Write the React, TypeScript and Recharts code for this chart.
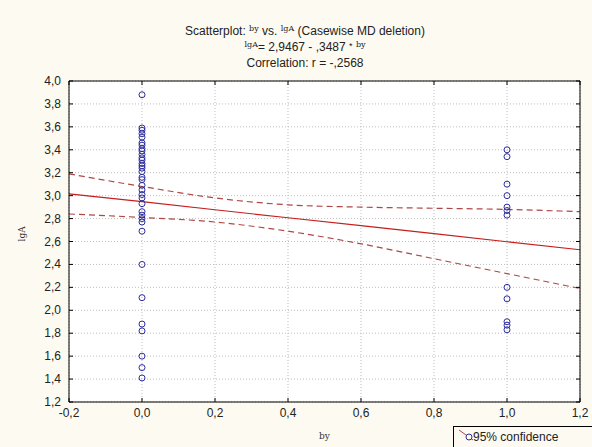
import React from 'react';
import { ComposedChart, Scatter, Line, XAxis, YAxis, CartesianGrid } from 'recharts';

const xTicks = [-0.2, 0, 0.2, 0.4, 0.6, 0.8, 1.0, 1.2];
const yTicks = [1.2, 1.4, 1.6, 1.8, 2.0, 2.2, 2.4, 2.6, 2.8, 3.0, 3.2, 3.4, 3.6, 3.8, 4.0];

const groupZeroValues = [3.88, 3.59, 3.57, 3.54, 3.51, 3.46, 3.44, 3.41, 3.39, 3.36, 3.33, 3.31, 3.28, 3.26, 3.24, 3.21, 3.16, 3.14, 3.09, 3.05, 3.01, 2.98, 2.93, 2.86, 2.83, 2.80, 2.77, 2.69, 2.40, 2.11, 1.88, 1.82, 1.60, 1.50, 1.41];
const groupOneValues = [3.40, 3.34, 3.10, 3.00, 2.90, 2.87, 2.83, 2.20, 2.10, 1.90, 1.87, 1.83];

const bandX = [-0.2, 0, 0.2, 0.4, 0.6, 0.8, 1.0, 1.2];
const fitValues = [3.016, 2.947, 2.877, 2.807, 2.738, 2.668, 2.598, 2.528];
const upperValues = [3.19, 3.08, 2.98, 2.92, 2.90, 2.89, 2.88, 2.86];
const lowerValues = [2.84, 2.81, 2.77, 2.69, 2.58, 2.45, 2.32, 2.19];

const scatterData = [
  ...groupZeroValues.map((y) => ({ x: 0, y })),
  ...groupOneValues.map((y) => ({ x: 1, y })),
];
const bandData = bandX.map((x, i) => ({ x, fit: fitValues[i], upper: upperValues[i], lower: lowerValues[i] }));

const fmt = (v: number) => v.toFixed(1).replace('.', ',');

const FONT = '"Liberation Sans", Arial, sans-serif';
const CREAM = '#fdfbf1';

const makeTick = (orient: string) => (props: any) => {
  const { x, y, payload } = props;
  if (orient === 'left') {
    const ax = x + 8;
    return (
      <g>
        <line x1={ax} x2={ax + 4} y1={y} y2={y} stroke="#000" />
        <text x={x} y={y} dy={4} textAnchor="end" fontSize={12} fontFamily={FONT} fill="#222">{fmt(payload.value)}</text>
      </g>
    );
  }
  if (orient === 'bottom') {
    const ay = y - 6;
    return (
      <g>
        <line x1={x} x2={x} y1={ay} y2={ay - 4} stroke="#000" />
        <text x={x} y={y} dy={9} textAnchor="middle" fontSize={12} fontFamily={FONT} fill="#222">{fmt(payload.value)}</text>
      </g>
    );
  }
  if (orient === 'top') {
    return <line x1={x} x2={x} y1={y} y2={y + 4} stroke="#000" />;
  }
  return <line x1={x} x2={x - 4} y1={y} y2={y} stroke="#000" />;
};

const Dot = (props: any) => (
  <circle cx={props.cx} cy={props.cy} r={3} fill="none" stroke="#2d2d9c" strokeWidth={1} />
);

const sup: React.CSSProperties = { fontFamily: '"DejaVu Serif", "Liberation Serif", serif', fontSize: 8, position: 'relative', top: -4 };

export default function App() {
  return (
    <div style={{ position: 'absolute', left: 0, top: 0, width: 592, height: 447, background: CREAM, fontFamily: FONT, overflow: 'hidden' }}>
      <ComposedChart width={592} height={447} data={bandData} margin={{ top: 71, right: 2, bottom: 0, left: 0 }}>
        <CartesianGrid stroke="#bdbdbd" strokeDasharray="1 2" fill="#ffffff" />
        <XAxis dataKey="x" type="number" domain={[-0.2, 1.2]} ticks={xTicks} interval={0} allowDataOverflow
          height={45} tickSize={0} tickLine={false} tickMargin={6} axisLine={{ stroke: '#000' }}
          tick={makeTick('bottom')}
          label={{ value: 'by', position: 'insideBottom', offset: 8, fontSize: 9, fontFamily: '"DejaVu Serif", serif', fill: '#333' }} />
        <XAxis xAxisId="top" orientation="top" dataKey="x" type="number" domain={[-0.2, 1.2]} ticks={xTicks} interval={0} allowDataOverflow
          height={10} tickSize={0} tickLine={false} tickMargin={0} axisLine={{ stroke: '#000' }} tick={makeTick('top')} />
        <YAxis type="number" domain={[1.2, 4.0]} ticks={yTicks} interval={0} allowDataOverflow
          width={69} tickSize={0} tickLine={false} tickMargin={8} axisLine={{ stroke: '#000' }}
          tick={makeTick('left')}
          label={{ value: 'lgA', angle: -90, position: 'insideLeft', offset: 22, fontSize: 9, fontFamily: '"DejaVu Serif", serif', fill: '#333' }} />
        <YAxis yAxisId="right" orientation="right" type="number" domain={[1.2, 4.0]} ticks={yTicks} interval={0} allowDataOverflow
          width={10} tickSize={0} tickLine={false} tickMargin={0} axisLine={{ stroke: '#000' }} tick={makeTick('right')} />
        <Line dataKey="upper" type="monotone" stroke="#b04646" strokeWidth={1.2} strokeDasharray="6 4" dot={false} isAnimationActive={false} />
        <Line dataKey="lower" type="monotone" stroke="#b04646" strokeWidth={1.2} strokeDasharray="6 4" dot={false} isAnimationActive={false} />
        <Line dataKey="fit" type="linear" stroke="#c41e1e" strokeWidth={1.2} dot={false} isAnimationActive={false} />
        <Scatter data={scatterData} dataKey="y" shape={Dot} isAnimationActive={false} />
      </ComposedChart>
      <div style={{ position: 'absolute', left: 0, width: 610, top: 24, textAlign: 'center', fontSize: 12, color: '#222', lineHeight: '14px' }}>
        <div>Scatterplot: <span style={sup}>by</span> vs. <span style={sup}>lgA</span> (Casewise MD deletion)</div>
        <div><span style={sup}>lgA</span>= 2,9467 - ,3487 <span style={{ fontSize: 9, position: 'relative', top: -2 }}>*</span> <span style={sup}>by</span></div>
        <div>Correlation: r = -,2568</div>
      </div>
      <div style={{ position: 'absolute', left: 453, top: 426, width: 150, height: 30, border: '1px solid #000', background: CREAM, boxSizing: 'border-box' }}>
        <svg width={22} height={20} style={{ position: 'absolute', left: 3, top: 0 }}>
          <line x1={2} y1={3} x2={16} y2={13} stroke="#b04646" strokeWidth={1} />
          <circle cx={12} cy={10} r={3} fill={CREAM} stroke="#2d2d9c" />
        </svg>
        <span style={{ position: 'absolute', left: 19, top: 3, fontSize: 12, color: '#222', whiteSpace: 'nowrap' }}>95% confidence</span>
      </div>
    </div>
  );
}
